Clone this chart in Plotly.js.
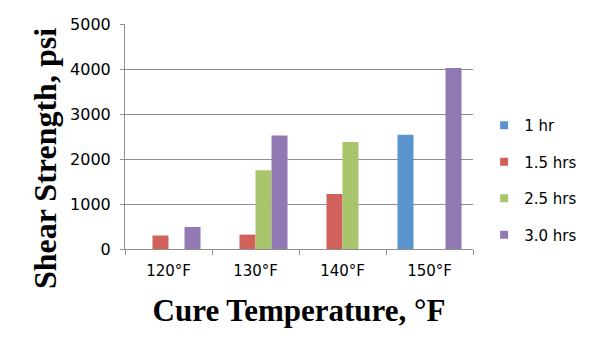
<!DOCTYPE html>
<html>
<head>
<meta charset="utf-8">
<script src="https://cdn.plot.ly/plotly-3.0.1.min.js"></script>
<style>html,body{margin:0;padding:0;background:#fff;}#chart{width:615px;height:350px;}</style>
</head>
<body>
<div id="chart"></div>
<script>
const categories = ["120°F", "130°F", "140°F", "150°F"];
const seriesNames = ["1 hr", "1.5 hrs", "2.5 hrs", "3.0 hrs"];
const oneHr = [null, null, null, 2540];
const onePointFiveHrs = [300, 320, 1225, null];
const twoPointFiveHrs = [null, 1750, 2380, null];
const threeHrs = [490, 2520, null, 4020];
const yTicks = [0, 1000, 2000, 3000, 4000, 5000];
const xTitle = "Cure Temperature, °F";
const yTitle = "Shear Strength, psi";
const colors = ["#5A95CF", "#D1625B", "#A8C56C", "#9179B4"];

const values = [oneHr, onePointFiveHrs, twoPointFiveHrs, threeHrs];
const traces = values.map((v, i) => ({
  type: "bar",
  name: seriesNames[i],
  x: categories,
  y: v,
  marker: {color: colors[i], line: {width: 0}},
  legendgroup: "g" + i,
  showlegend: false,
  hoverinfo: "x+y+name"
}));
// legend entries with small square swatches
const legendTraces = seriesNames.map((n, i) => ({
  type: "scatter",
  mode: "markers",
  name: n,
  x: [null],
  y: [null],
  marker: {symbol: "square", size: 8, color: colors[i]},
  legendgroup: "g" + i,
  showlegend: true,
  hoverinfo: "skip"
}));

const gridColor = "#8f8f8f";
const layout = {
  width: 615,
  height: 350,
  margin: {l: 125, r: 142, t: 24, b: 101, pad: 0},
  paper_bgcolor: "#ffffff",
  plot_bgcolor: "#ffffff",
  barmode: "group",
  bargap: 0.264,
  bargroupgap: 0,
  font: {family: "DejaVu Sans", color: "#000000"},
  xaxis: {
    type: "category",
    showline: true,
    linecolor: gridColor,
    linewidth: 1,
    ticks: "outside",
    tickson: "boundaries",
    ticklen: 5,
    tickcolor: gridColor,
    ticklabelstandoff: 8,
    tickfont: {family: "DejaVu Sans", size: 15, color: "#000"},
    showgrid: false,
    title: {text: xTitle, font: {family: "Liberation Serif", size: 31, color: "#000", weight: "bold"}, standoff: 20}
  },
  yaxis: {
    range: [0, 5000],
    tickvals: yTicks,
    showline: true,
    linecolor: gridColor,
    linewidth: 1,
    ticks: "outside",
    ticklen: 4,
    tickcolor: gridColor,
    showgrid: true,
    gridcolor: gridColor,
    gridwidth: 1,
    zeroline: false,
    ticklabelstandoff: 6,
    tickfont: {family: "DejaVu Sans", size: 16, color: "#000"}
  },
  annotations: [{
    text: yTitle,
    xref: "paper", yref: "paper",
    x: -0.23, y: 0.404,
    xanchor: "center", yanchor: "middle",
    textangle: -90,
    showarrow: false,
    font: {family: "Liberation Serif", size: 32, color: "#000", weight: "bold"}
  }],
  showlegend: true,
  legend: {
    x: 1.032,
    xanchor: "left",
    y: 0.307,
    yanchor: "middle",
    traceorder: "grouped",
    tracegroupgap: 14,
    font: {family: "DejaVu Sans", size: 15, color: "#000"},
    bgcolor: "rgba(0,0,0,0)",
    borderwidth: 0
  }
};

Plotly.newPlot("chart", traces.concat(legendTraces), layout, {displayModeBar: false, staticPlot: true});
</script>
</body>
</html>
